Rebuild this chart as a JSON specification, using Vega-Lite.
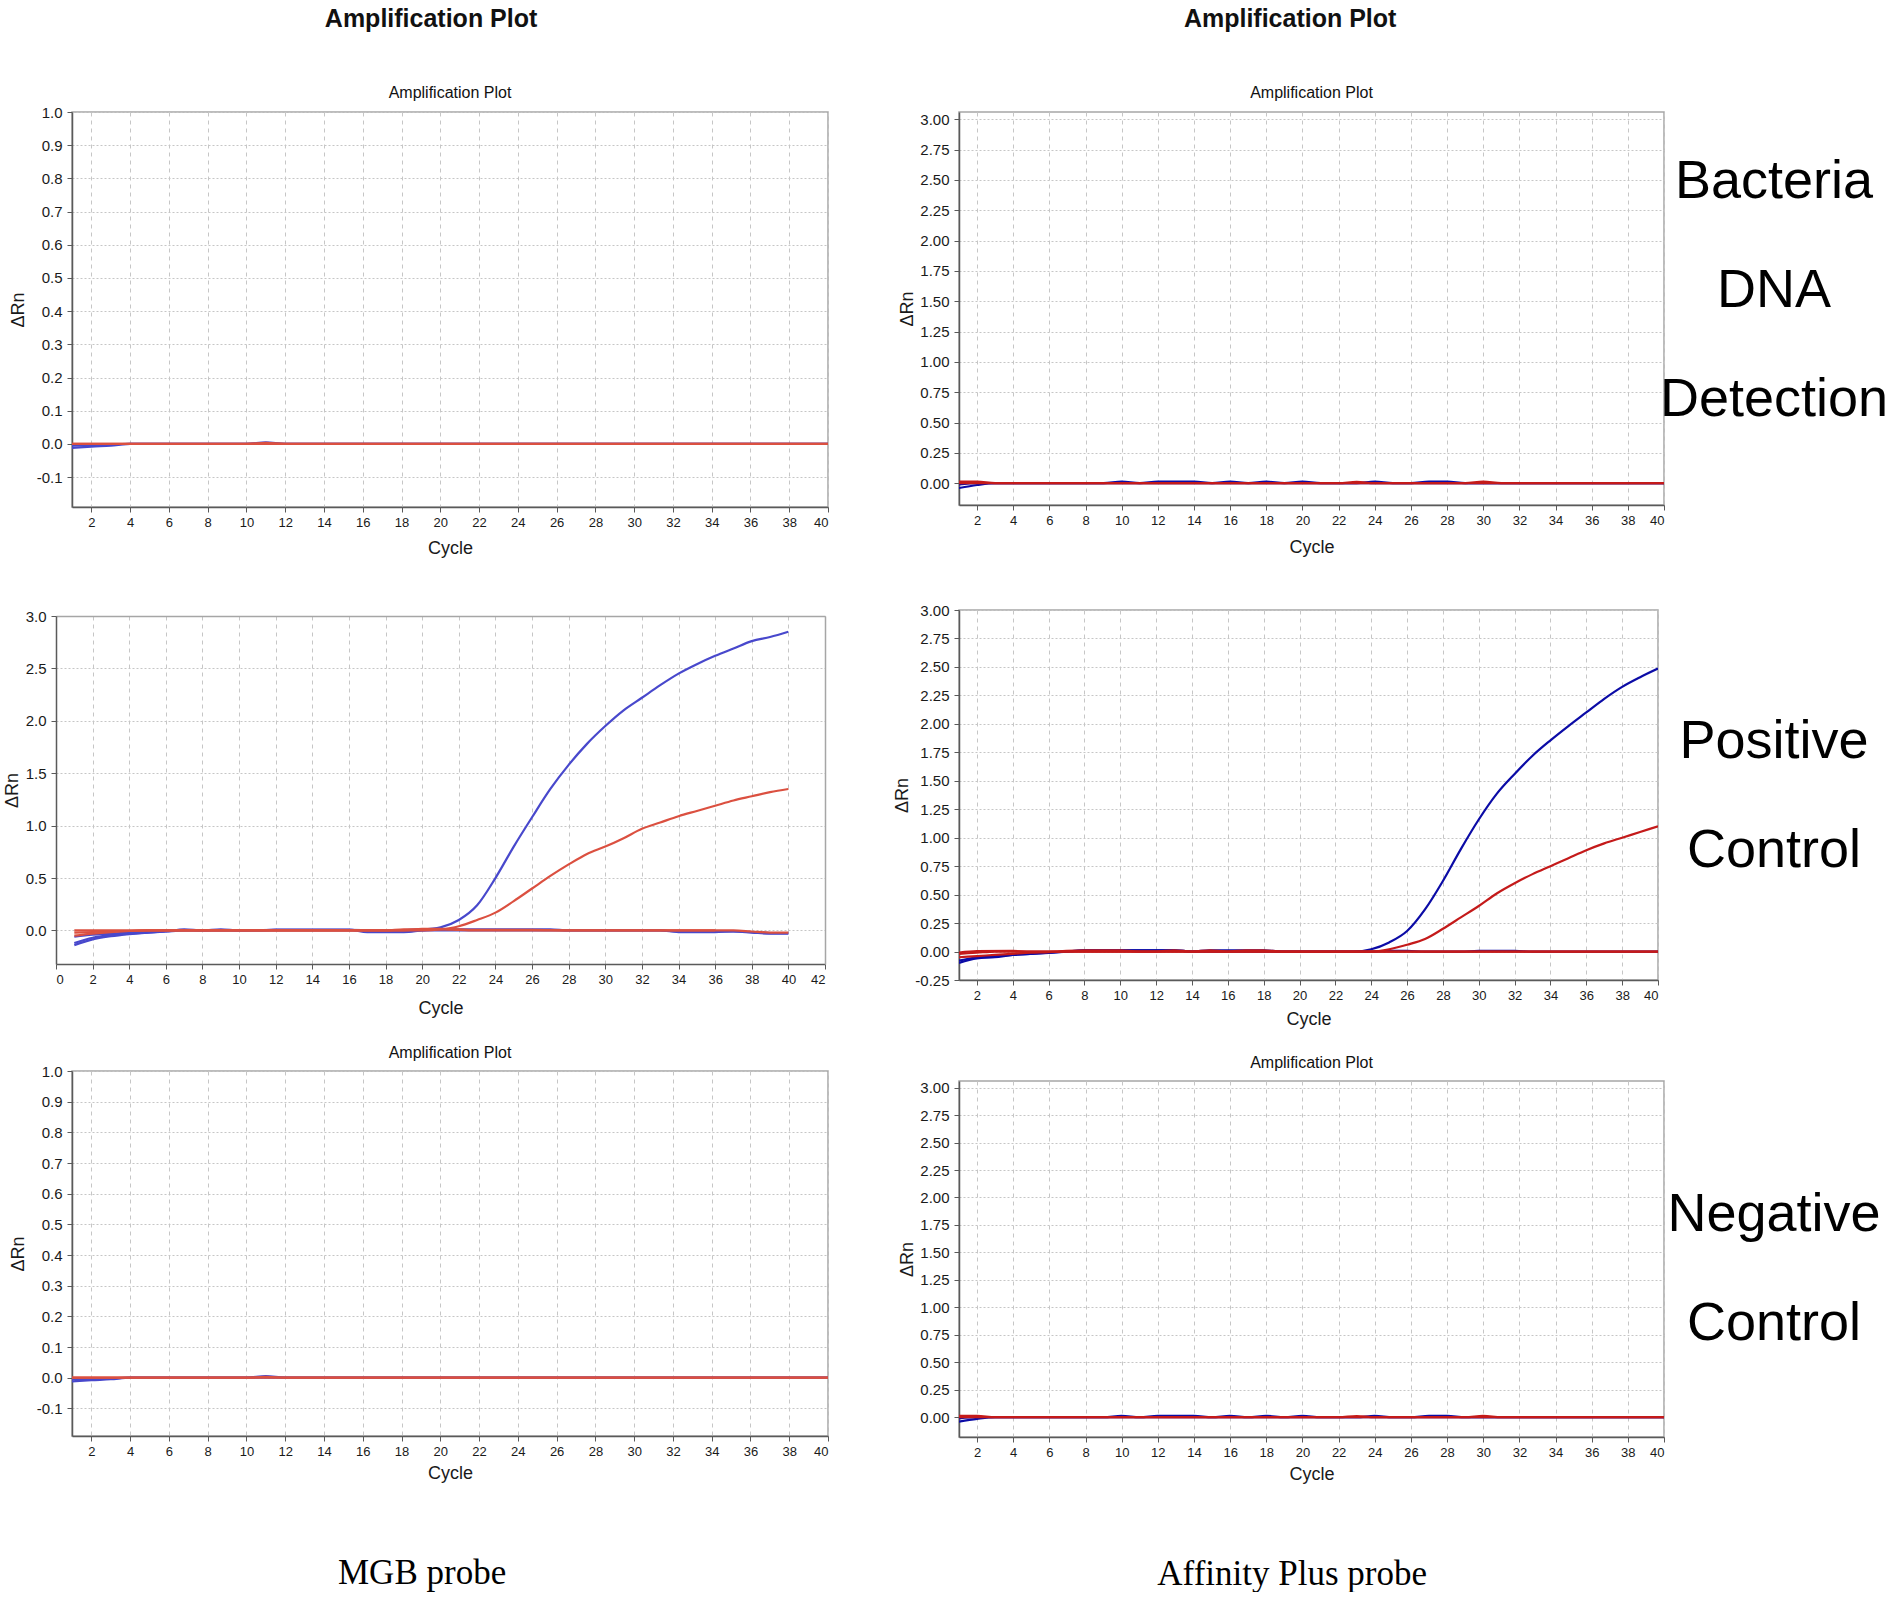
{
  "$schema": "https://vega.github.io/schema/vega-lite/v6.json",
  "background": "white",
  "padding": {"left": 3, "top": 7, "right": 0, "bottom": 0},
  "data": {
    "values": [
      {"p":"TL","s":"b1","d":"MGB-FAM","x":1,"y":-0.012},{"p":"TL","s":"b1","d":"MGB-FAM","x":2,"y":-0.008},{"p":"TL","s":"b1","d":"MGB-FAM","x":3,"y":-0.005},{"p":"TL","s":"b1","d":"MGB-FAM","x":4,"y":0},{"p":"TL","s":"b1","d":"MGB-FAM","x":40,"y":0},
      {"p":"TL","s":"b2","d":"MGB-FAM","x":1,"y":-0.005},{"p":"TL","s":"b2","d":"MGB-FAM","x":3,"y":-0.002},{"p":"TL","s":"b2","d":"MGB-FAM","x":4,"y":0},{"p":"TL","s":"b2","d":"MGB-FAM","x":10,"y":0},{"p":"TL","s":"b2","d":"MGB-FAM","x":11,"y":0.005},{"p":"TL","s":"b2","d":"MGB-FAM","x":12,"y":0},{"p":"TL","s":"b2","d":"MGB-FAM","x":40,"y":0},
      {"p":"TL","s":"r1","d":"MGB-VIC","x":1,"y":0},{"p":"TL","s":"r1","d":"MGB-VIC","x":40,"y":0},
      {"p":"TL","s":"r2","d":"MGB-VIC","x":1,"y":0},{"p":"TL","s":"r2","d":"MGB-VIC","x":10,"y":0},{"p":"TL","s":"r2","d":"MGB-VIC","x":11,"y":0.003},{"p":"TL","s":"r2","d":"MGB-VIC","x":12,"y":0},{"p":"TL","s":"r2","d":"MGB-VIC","x":40,"y":0},

      {"p":"BL","s":"b1","d":"MGB-FAM","x":1,"y":-0.012},{"p":"BL","s":"b1","d":"MGB-FAM","x":2,"y":-0.008},{"p":"BL","s":"b1","d":"MGB-FAM","x":3,"y":-0.005},{"p":"BL","s":"b1","d":"MGB-FAM","x":4,"y":0},{"p":"BL","s":"b1","d":"MGB-FAM","x":40,"y":0},
      {"p":"BL","s":"b2","d":"MGB-FAM","x":1,"y":-0.005},{"p":"BL","s":"b2","d":"MGB-FAM","x":3,"y":-0.002},{"p":"BL","s":"b2","d":"MGB-FAM","x":4,"y":0},{"p":"BL","s":"b2","d":"MGB-FAM","x":10,"y":0},{"p":"BL","s":"b2","d":"MGB-FAM","x":11,"y":0.005},{"p":"BL","s":"b2","d":"MGB-FAM","x":12,"y":0},{"p":"BL","s":"b2","d":"MGB-FAM","x":40,"y":0},
      {"p":"BL","s":"r1","d":"MGB-VIC","x":1,"y":0},{"p":"BL","s":"r1","d":"MGB-VIC","x":40,"y":0},
      {"p":"BL","s":"r2","d":"MGB-VIC","x":1,"y":0},{"p":"BL","s":"r2","d":"MGB-VIC","x":10,"y":0},{"p":"BL","s":"r2","d":"MGB-VIC","x":11,"y":0.003},{"p":"BL","s":"r2","d":"MGB-VIC","x":12,"y":0},{"p":"BL","s":"r2","d":"MGB-VIC","x":40,"y":0},

      {"p":"TR","s":"b1","d":"AP-FAM","x":1,"y":-0.04},{"p":"TR","s":"b1","d":"AP-FAM","x":2,"y":-0.015},{"p":"TR","s":"b1","d":"AP-FAM","x":3,"y":0},{"p":"TR","s":"b1","d":"AP-FAM","x":9,"y":0},{"p":"TR","s":"b1","d":"AP-FAM","x":10,"y":0.012},{"p":"TR","s":"b1","d":"AP-FAM","x":11,"y":0},{"p":"TR","s":"b1","d":"AP-FAM","x":12,"y":0.012},{"p":"TR","s":"b1","d":"AP-FAM","x":13,"y":0.012},{"p":"TR","s":"b1","d":"AP-FAM","x":14,"y":0.012},{"p":"TR","s":"b1","d":"AP-FAM","x":15,"y":0},{"p":"TR","s":"b1","d":"AP-FAM","x":16,"y":0.012},{"p":"TR","s":"b1","d":"AP-FAM","x":17,"y":0},{"p":"TR","s":"b1","d":"AP-FAM","x":18,"y":0.012},{"p":"TR","s":"b1","d":"AP-FAM","x":19,"y":0},{"p":"TR","s":"b1","d":"AP-FAM","x":20,"y":0.012},{"p":"TR","s":"b1","d":"AP-FAM","x":21,"y":0},{"p":"TR","s":"b1","d":"AP-FAM","x":23,"y":0},{"p":"TR","s":"b1","d":"AP-FAM","x":24,"y":0.012},{"p":"TR","s":"b1","d":"AP-FAM","x":25,"y":0},{"p":"TR","s":"b1","d":"AP-FAM","x":26,"y":0},{"p":"TR","s":"b1","d":"AP-FAM","x":27,"y":0.012},{"p":"TR","s":"b1","d":"AP-FAM","x":28,"y":0.012},{"p":"TR","s":"b1","d":"AP-FAM","x":29,"y":0},{"p":"TR","s":"b1","d":"AP-FAM","x":40,"y":0},
      {"p":"TR","s":"b2","d":"AP-FAM","x":1,"y":-0.01},{"p":"TR","s":"b2","d":"AP-FAM","x":2,"y":0},{"p":"TR","s":"b2","d":"AP-FAM","x":40,"y":0},
      {"p":"TR","s":"r1","d":"AP-VIC","x":1,"y":0.012},{"p":"TR","s":"r1","d":"AP-VIC","x":2,"y":0.012},{"p":"TR","s":"r1","d":"AP-VIC","x":3,"y":0},{"p":"TR","s":"r1","d":"AP-VIC","x":22,"y":0},{"p":"TR","s":"r1","d":"AP-VIC","x":23,"y":0.01},{"p":"TR","s":"r1","d":"AP-VIC","x":24,"y":0},{"p":"TR","s":"r1","d":"AP-VIC","x":29,"y":0},{"p":"TR","s":"r1","d":"AP-VIC","x":30,"y":0.012},{"p":"TR","s":"r1","d":"AP-VIC","x":31,"y":0},{"p":"TR","s":"r1","d":"AP-VIC","x":40,"y":0},
      {"p":"TR","s":"r2","d":"AP-VIC","x":1,"y":0},{"p":"TR","s":"r2","d":"AP-VIC","x":40,"y":0},

      {"p":"BR","s":"b1","d":"AP-FAM","x":1,"y":-0.04},{"p":"BR","s":"b1","d":"AP-FAM","x":2,"y":-0.015},{"p":"BR","s":"b1","d":"AP-FAM","x":3,"y":0},{"p":"BR","s":"b1","d":"AP-FAM","x":9,"y":0},{"p":"BR","s":"b1","d":"AP-FAM","x":10,"y":0.012},{"p":"BR","s":"b1","d":"AP-FAM","x":11,"y":0},{"p":"BR","s":"b1","d":"AP-FAM","x":12,"y":0.012},{"p":"BR","s":"b1","d":"AP-FAM","x":13,"y":0.012},{"p":"BR","s":"b1","d":"AP-FAM","x":14,"y":0.012},{"p":"BR","s":"b1","d":"AP-FAM","x":15,"y":0},{"p":"BR","s":"b1","d":"AP-FAM","x":16,"y":0.012},{"p":"BR","s":"b1","d":"AP-FAM","x":17,"y":0},{"p":"BR","s":"b1","d":"AP-FAM","x":18,"y":0.012},{"p":"BR","s":"b1","d":"AP-FAM","x":19,"y":0},{"p":"BR","s":"b1","d":"AP-FAM","x":20,"y":0.012},{"p":"BR","s":"b1","d":"AP-FAM","x":21,"y":0},{"p":"BR","s":"b1","d":"AP-FAM","x":23,"y":0},{"p":"BR","s":"b1","d":"AP-FAM","x":24,"y":0.012},{"p":"BR","s":"b1","d":"AP-FAM","x":25,"y":0},{"p":"BR","s":"b1","d":"AP-FAM","x":26,"y":0},{"p":"BR","s":"b1","d":"AP-FAM","x":27,"y":0.012},{"p":"BR","s":"b1","d":"AP-FAM","x":28,"y":0.012},{"p":"BR","s":"b1","d":"AP-FAM","x":29,"y":0},{"p":"BR","s":"b1","d":"AP-FAM","x":40,"y":0},
      {"p":"BR","s":"b2","d":"AP-FAM","x":1,"y":-0.01},{"p":"BR","s":"b2","d":"AP-FAM","x":2,"y":0},{"p":"BR","s":"b2","d":"AP-FAM","x":40,"y":0},
      {"p":"BR","s":"r1","d":"AP-VIC","x":1,"y":0.012},{"p":"BR","s":"r1","d":"AP-VIC","x":2,"y":0.012},{"p":"BR","s":"r1","d":"AP-VIC","x":3,"y":0},{"p":"BR","s":"r1","d":"AP-VIC","x":22,"y":0},{"p":"BR","s":"r1","d":"AP-VIC","x":23,"y":0.01},{"p":"BR","s":"r1","d":"AP-VIC","x":24,"y":0},{"p":"BR","s":"r1","d":"AP-VIC","x":29,"y":0},{"p":"BR","s":"r1","d":"AP-VIC","x":30,"y":0.012},{"p":"BR","s":"r1","d":"AP-VIC","x":31,"y":0},{"p":"BR","s":"r1","d":"AP-VIC","x":40,"y":0},
      {"p":"BR","s":"r2","d":"AP-VIC","x":1,"y":0},{"p":"BR","s":"r2","d":"AP-VIC","x":40,"y":0},

      {"p":"ML","s":"b1","d":"MGB-FAM","x":1,"y":-0.14},{"p":"ML","s":"b1","d":"MGB-FAM","x":2,"y":-0.085},{"p":"ML","s":"b1","d":"MGB-FAM","x":3,"y":-0.055},{"p":"ML","s":"b1","d":"MGB-FAM","x":4,"y":-0.035},{"p":"ML","s":"b1","d":"MGB-FAM","x":5,"y":-0.02},{"p":"ML","s":"b1","d":"MGB-FAM","x":6,"y":-0.01},{"p":"ML","s":"b1","d":"MGB-FAM","x":7,"y":0},{"p":"ML","s":"b1","d":"MGB-FAM","x":10,"y":0},{"p":"ML","s":"b1","d":"MGB-FAM","x":12,"y":0.005},{"p":"ML","s":"b1","d":"MGB-FAM","x":16,"y":0.005},{"p":"ML","s":"b1","d":"MGB-FAM","x":18,"y":0},{"p":"ML","s":"b1","d":"MGB-FAM","x":20,"y":0.01},{"p":"ML","s":"b1","d":"MGB-FAM","x":21,"y":0.03},{"p":"ML","s":"b1","d":"MGB-FAM","x":22,"y":0.1},{"p":"ML","s":"b1","d":"MGB-FAM","x":23,"y":0.24},{"p":"ML","s":"b1","d":"MGB-FAM","x":24,"y":0.5},{"p":"ML","s":"b1","d":"MGB-FAM","x":25,"y":0.8},{"p":"ML","s":"b1","d":"MGB-FAM","x":26,"y":1.08},{"p":"ML","s":"b1","d":"MGB-FAM","x":27,"y":1.35},{"p":"ML","s":"b1","d":"MGB-FAM","x":28,"y":1.58},{"p":"ML","s":"b1","d":"MGB-FAM","x":29,"y":1.78},{"p":"ML","s":"b1","d":"MGB-FAM","x":30,"y":1.95},{"p":"ML","s":"b1","d":"MGB-FAM","x":31,"y":2.1},{"p":"ML","s":"b1","d":"MGB-FAM","x":32,"y":2.22},{"p":"ML","s":"b1","d":"MGB-FAM","x":33,"y":2.34},{"p":"ML","s":"b1","d":"MGB-FAM","x":34,"y":2.45},{"p":"ML","s":"b1","d":"MGB-FAM","x":35,"y":2.54},{"p":"ML","s":"b1","d":"MGB-FAM","x":36,"y":2.62},{"p":"ML","s":"b1","d":"MGB-FAM","x":37,"y":2.69},{"p":"ML","s":"b1","d":"MGB-FAM","x":38,"y":2.76},{"p":"ML","s":"b1","d":"MGB-FAM","x":39,"y":2.8},{"p":"ML","s":"b1","d":"MGB-FAM","x":40,"y":2.85},
      {"p":"ML","s":"b2","d":"MGB-FAM","x":1,"y":-0.12},{"p":"ML","s":"b2","d":"MGB-FAM","x":2,"y":-0.07},{"p":"ML","s":"b2","d":"MGB-FAM","x":3,"y":-0.045},{"p":"ML","s":"b2","d":"MGB-FAM","x":4,"y":-0.03},{"p":"ML","s":"b2","d":"MGB-FAM","x":5,"y":-0.02},{"p":"ML","s":"b2","d":"MGB-FAM","x":6,"y":-0.01},{"p":"ML","s":"b2","d":"MGB-FAM","x":7,"y":0.01},{"p":"ML","s":"b2","d":"MGB-FAM","x":8,"y":0},{"p":"ML","s":"b2","d":"MGB-FAM","x":9,"y":0.01},{"p":"ML","s":"b2","d":"MGB-FAM","x":10,"y":0},{"p":"ML","s":"b2","d":"MGB-FAM","x":11,"y":0},{"p":"ML","s":"b2","d":"MGB-FAM","x":12,"y":0.008},{"p":"ML","s":"b2","d":"MGB-FAM","x":16,"y":0.008},{"p":"ML","s":"b2","d":"MGB-FAM","x":17,"y":-0.015},{"p":"ML","s":"b2","d":"MGB-FAM","x":19,"y":-0.015},{"p":"ML","s":"b2","d":"MGB-FAM","x":20,"y":0},{"p":"ML","s":"b2","d":"MGB-FAM","x":21,"y":0.01},{"p":"ML","s":"b2","d":"MGB-FAM","x":27,"y":0.01},{"p":"ML","s":"b2","d":"MGB-FAM","x":28,"y":0},{"p":"ML","s":"b2","d":"MGB-FAM","x":33,"y":0},{"p":"ML","s":"b2","d":"MGB-FAM","x":34,"y":-0.015},{"p":"ML","s":"b2","d":"MGB-FAM","x":36,"y":-0.015},{"p":"ML","s":"b2","d":"MGB-FAM","x":37,"y":-0.01},{"p":"ML","s":"b2","d":"MGB-FAM","x":38,"y":-0.02},{"p":"ML","s":"b2","d":"MGB-FAM","x":39,"y":-0.03},{"p":"ML","s":"b2","d":"MGB-FAM","x":40,"y":-0.03},
      {"p":"ML","s":"b3","d":"MGB-FAM","x":1,"y":-0.06},{"p":"ML","s":"b3","d":"MGB-FAM","x":2,"y":-0.04},{"p":"ML","s":"b3","d":"MGB-FAM","x":3,"y":-0.03},{"p":"ML","s":"b3","d":"MGB-FAM","x":4,"y":-0.02},{"p":"ML","s":"b3","d":"MGB-FAM","x":5,"y":-0.01},{"p":"ML","s":"b3","d":"MGB-FAM","x":6,"y":0},{"p":"ML","s":"b3","d":"MGB-FAM","x":17,"y":0},{"p":"ML","s":"b3","d":"MGB-FAM","x":18,"y":-0.01},{"p":"ML","s":"b3","d":"MGB-FAM","x":19,"y":-0.01},{"p":"ML","s":"b3","d":"MGB-FAM","x":20,"y":0},{"p":"ML","s":"b3","d":"MGB-FAM","x":33,"y":0},{"p":"ML","s":"b3","d":"MGB-FAM","x":34,"y":-0.01},{"p":"ML","s":"b3","d":"MGB-FAM","x":37,"y":-0.01},{"p":"ML","s":"b3","d":"MGB-FAM","x":38,"y":-0.015},{"p":"ML","s":"b3","d":"MGB-FAM","x":39,"y":-0.025},{"p":"ML","s":"b3","d":"MGB-FAM","x":40,"y":-0.025},
      {"p":"ML","s":"r1","d":"MGB-VIC","x":1,"y":-0.02},{"p":"ML","s":"r1","d":"MGB-VIC","x":2,"y":-0.015},{"p":"ML","s":"r1","d":"MGB-VIC","x":3,"y":-0.01},{"p":"ML","s":"r1","d":"MGB-VIC","x":4,"y":-0.005},{"p":"ML","s":"r1","d":"MGB-VIC","x":5,"y":0},{"p":"ML","s":"r1","d":"MGB-VIC","x":20,"y":0},{"p":"ML","s":"r1","d":"MGB-VIC","x":21,"y":0.01},{"p":"ML","s":"r1","d":"MGB-VIC","x":22,"y":0.04},{"p":"ML","s":"r1","d":"MGB-VIC","x":23,"y":0.1},{"p":"ML","s":"r1","d":"MGB-VIC","x":24,"y":0.17},{"p":"ML","s":"r1","d":"MGB-VIC","x":25,"y":0.28},{"p":"ML","s":"r1","d":"MGB-VIC","x":26,"y":0.4},{"p":"ML","s":"r1","d":"MGB-VIC","x":27,"y":0.52},{"p":"ML","s":"r1","d":"MGB-VIC","x":28,"y":0.63},{"p":"ML","s":"r1","d":"MGB-VIC","x":29,"y":0.73},{"p":"ML","s":"r1","d":"MGB-VIC","x":30,"y":0.8},{"p":"ML","s":"r1","d":"MGB-VIC","x":31,"y":0.88},{"p":"ML","s":"r1","d":"MGB-VIC","x":32,"y":0.97},{"p":"ML","s":"r1","d":"MGB-VIC","x":33,"y":1.03},{"p":"ML","s":"r1","d":"MGB-VIC","x":34,"y":1.09},{"p":"ML","s":"r1","d":"MGB-VIC","x":35,"y":1.14},{"p":"ML","s":"r1","d":"MGB-VIC","x":36,"y":1.19},{"p":"ML","s":"r1","d":"MGB-VIC","x":37,"y":1.24},{"p":"ML","s":"r1","d":"MGB-VIC","x":38,"y":1.28},{"p":"ML","s":"r1","d":"MGB-VIC","x":39,"y":1.32},{"p":"ML","s":"r1","d":"MGB-VIC","x":40,"y":1.35},
      {"p":"ML","s":"r2","d":"MGB-VIC","x":1,"y":0},{"p":"ML","s":"r2","d":"MGB-VIC","x":18,"y":0},{"p":"ML","s":"r2","d":"MGB-VIC","x":19,"y":0.01},{"p":"ML","s":"r2","d":"MGB-VIC","x":21,"y":0.01},{"p":"ML","s":"r2","d":"MGB-VIC","x":22,"y":0.005},{"p":"ML","s":"r2","d":"MGB-VIC","x":23,"y":0},{"p":"ML","s":"r2","d":"MGB-VIC","x":37,"y":0},{"p":"ML","s":"r2","d":"MGB-VIC","x":38,"y":-0.01},{"p":"ML","s":"r2","d":"MGB-VIC","x":39,"y":-0.02},{"p":"ML","s":"r2","d":"MGB-VIC","x":40,"y":-0.02},
      {"p":"ML","s":"r3","d":"MGB-VIC","x":1,"y":-0.05},{"p":"ML","s":"r3","d":"MGB-VIC","x":2,"y":-0.03},{"p":"ML","s":"r3","d":"MGB-VIC","x":3,"y":-0.015},{"p":"ML","s":"r3","d":"MGB-VIC","x":4,"y":-0.005},{"p":"ML","s":"r3","d":"MGB-VIC","x":5,"y":0},{"p":"ML","s":"r3","d":"MGB-VIC","x":19,"y":0},{"p":"ML","s":"r3","d":"MGB-VIC","x":20,"y":0.015},{"p":"ML","s":"r3","d":"MGB-VIC","x":21,"y":0.015},{"p":"ML","s":"r3","d":"MGB-VIC","x":22,"y":0.01},{"p":"ML","s":"r3","d":"MGB-VIC","x":23,"y":0.005},{"p":"ML","s":"r3","d":"MGB-VIC","x":26,"y":0.005},{"p":"ML","s":"r3","d":"MGB-VIC","x":28,"y":0},{"p":"ML","s":"r3","d":"MGB-VIC","x":36,"y":0},

      {"p":"MR","s":"b1","d":"AP-FAM","x":1,"y":-0.1},{"p":"MR","s":"b1","d":"AP-FAM","x":2,"y":-0.06},{"p":"MR","s":"b1","d":"AP-FAM","x":3,"y":-0.05},{"p":"MR","s":"b1","d":"AP-FAM","x":4,"y":-0.03},{"p":"MR","s":"b1","d":"AP-FAM","x":5,"y":-0.02},{"p":"MR","s":"b1","d":"AP-FAM","x":6,"y":-0.012},{"p":"MR","s":"b1","d":"AP-FAM","x":7,"y":0},{"p":"MR","s":"b1","d":"AP-FAM","x":8,"y":0.01},{"p":"MR","s":"b1","d":"AP-FAM","x":13,"y":0.01},{"p":"MR","s":"b1","d":"AP-FAM","x":14,"y":0},{"p":"MR","s":"b1","d":"AP-FAM","x":15,"y":0.01},{"p":"MR","s":"b1","d":"AP-FAM","x":18,"y":0.01},{"p":"MR","s":"b1","d":"AP-FAM","x":19,"y":0},{"p":"MR","s":"b1","d":"AP-FAM","x":23,"y":0},{"p":"MR","s":"b1","d":"AP-FAM","x":24,"y":0.02},{"p":"MR","s":"b1","d":"AP-FAM","x":25,"y":0.08},{"p":"MR","s":"b1","d":"AP-FAM","x":26,"y":0.18},{"p":"MR","s":"b1","d":"AP-FAM","x":27,"y":0.37},{"p":"MR","s":"b1","d":"AP-FAM","x":28,"y":0.62},{"p":"MR","s":"b1","d":"AP-FAM","x":29,"y":0.9},{"p":"MR","s":"b1","d":"AP-FAM","x":30,"y":1.16},{"p":"MR","s":"b1","d":"AP-FAM","x":31,"y":1.385},{"p":"MR","s":"b1","d":"AP-FAM","x":32,"y":1.56},{"p":"MR","s":"b1","d":"AP-FAM","x":33,"y":1.72},{"p":"MR","s":"b1","d":"AP-FAM","x":34,"y":1.855},{"p":"MR","s":"b1","d":"AP-FAM","x":35,"y":1.98},{"p":"MR","s":"b1","d":"AP-FAM","x":36,"y":2.1},{"p":"MR","s":"b1","d":"AP-FAM","x":37,"y":2.22},{"p":"MR","s":"b1","d":"AP-FAM","x":38,"y":2.325},{"p":"MR","s":"b1","d":"AP-FAM","x":39,"y":2.41},{"p":"MR","s":"b1","d":"AP-FAM","x":40,"y":2.486},
      {"p":"MR","s":"b2","d":"AP-FAM","x":1,"y":-0.08},{"p":"MR","s":"b2","d":"AP-FAM","x":2,"y":-0.05},{"p":"MR","s":"b2","d":"AP-FAM","x":3,"y":-0.04},{"p":"MR","s":"b2","d":"AP-FAM","x":4,"y":-0.03},{"p":"MR","s":"b2","d":"AP-FAM","x":5,"y":-0.02},{"p":"MR","s":"b2","d":"AP-FAM","x":6,"y":-0.01},{"p":"MR","s":"b2","d":"AP-FAM","x":7,"y":0},{"p":"MR","s":"b2","d":"AP-FAM","x":8,"y":0.01},{"p":"MR","s":"b2","d":"AP-FAM","x":13,"y":0.01},{"p":"MR","s":"b2","d":"AP-FAM","x":14,"y":0},{"p":"MR","s":"b2","d":"AP-FAM","x":24,"y":0},{"p":"MR","s":"b2","d":"AP-FAM","x":25,"y":0.005},{"p":"MR","s":"b2","d":"AP-FAM","x":26,"y":0.005},{"p":"MR","s":"b2","d":"AP-FAM","x":27,"y":0},{"p":"MR","s":"b2","d":"AP-FAM","x":29,"y":0},{"p":"MR","s":"b2","d":"AP-FAM","x":30,"y":0.005},{"p":"MR","s":"b2","d":"AP-FAM","x":32,"y":0.005},{"p":"MR","s":"b2","d":"AP-FAM","x":33,"y":0},{"p":"MR","s":"b2","d":"AP-FAM","x":40,"y":0},
      {"p":"MR","s":"r1","d":"AP-VIC","x":1,"y":-0.05},{"p":"MR","s":"r1","d":"AP-VIC","x":2,"y":-0.04},{"p":"MR","s":"r1","d":"AP-VIC","x":3,"y":-0.03},{"p":"MR","s":"r1","d":"AP-VIC","x":4,"y":-0.02},{"p":"MR","s":"r1","d":"AP-VIC","x":5,"y":-0.01},{"p":"MR","s":"r1","d":"AP-VIC","x":6,"y":-0.005},{"p":"MR","s":"r1","d":"AP-VIC","x":7,"y":0.005},{"p":"MR","s":"r1","d":"AP-VIC","x":8,"y":0.01},{"p":"MR","s":"r1","d":"AP-VIC","x":10,"y":0.01},{"p":"MR","s":"r1","d":"AP-VIC","x":11,"y":0},{"p":"MR","s":"r1","d":"AP-VIC","x":12,"y":0},{"p":"MR","s":"r1","d":"AP-VIC","x":13,"y":0.01},{"p":"MR","s":"r1","d":"AP-VIC","x":14,"y":0},{"p":"MR","s":"r1","d":"AP-VIC","x":15,"y":0.01},{"p":"MR","s":"r1","d":"AP-VIC","x":16,"y":0},{"p":"MR","s":"r1","d":"AP-VIC","x":17,"y":0.01},{"p":"MR","s":"r1","d":"AP-VIC","x":18,"y":0.01},{"p":"MR","s":"r1","d":"AP-VIC","x":19,"y":0},{"p":"MR","s":"r1","d":"AP-VIC","x":24,"y":0},{"p":"MR","s":"r1","d":"AP-VIC","x":25,"y":0.02},{"p":"MR","s":"r1","d":"AP-VIC","x":26,"y":0.06},{"p":"MR","s":"r1","d":"AP-VIC","x":27,"y":0.11},{"p":"MR","s":"r1","d":"AP-VIC","x":28,"y":0.2},{"p":"MR","s":"r1","d":"AP-VIC","x":29,"y":0.3},{"p":"MR","s":"r1","d":"AP-VIC","x":30,"y":0.4},{"p":"MR","s":"r1","d":"AP-VIC","x":31,"y":0.51},{"p":"MR","s":"r1","d":"AP-VIC","x":32,"y":0.6},{"p":"MR","s":"r1","d":"AP-VIC","x":33,"y":0.68},{"p":"MR","s":"r1","d":"AP-VIC","x":34,"y":0.75},{"p":"MR","s":"r1","d":"AP-VIC","x":35,"y":0.82},{"p":"MR","s":"r1","d":"AP-VIC","x":36,"y":0.89},{"p":"MR","s":"r1","d":"AP-VIC","x":37,"y":0.95},{"p":"MR","s":"r1","d":"AP-VIC","x":38,"y":1.0},{"p":"MR","s":"r1","d":"AP-VIC","x":39,"y":1.05},{"p":"MR","s":"r1","d":"AP-VIC","x":40,"y":1.1},
      {"p":"MR","s":"r2","d":"AP-VIC","x":1,"y":-0.02},{"p":"MR","s":"r2","d":"AP-VIC","x":2,"y":-0.01},{"p":"MR","s":"r2","d":"AP-VIC","x":3,"y":0},{"p":"MR","s":"r2","d":"AP-VIC","x":40,"y":0},
      {"p":"MR","s":"r3","d":"AP-VIC","x":1,"y":-0.01},{"p":"MR","s":"r3","d":"AP-VIC","x":2,"y":0.003},{"p":"MR","s":"r3","d":"AP-VIC","x":4,"y":0.005},{"p":"MR","s":"r3","d":"AP-VIC","x":5,"y":0},{"p":"MR","s":"r3","d":"AP-VIC","x":40,"y":0},

      {"p":"L1","line":1,"t":"Bacteria"},{"p":"L1","line":2,"t":"DNA"},{"p":"L1","line":3,"t":"Detection"},
      {"p":"L2","line":1,"t":"Positive"},{"p":"L2","line":2,"t":"Control"},
      {"p":"L3","line":1,"t":"Negative"},{"p":"L3","line":2,"t":"Control"}
    ]
  },
  "hconcat": [
    {
      "title": {"text": "Amplification Plot", "fontSize": 25, "fontWeight": "bold", "offset": 27, "baseline": "bottom", "dx": 9},
      "columns": 1,
      "align": "none",
      "spacing": 51,
      "concat": [
        {
          "width": 756,
          "height": 395,
          "title": {"text": "Amplification Plot", "offset": -12, "baseline": "bottom"},
          "transform": [{"filter": "datum.p === 'TL'"}],
          "mark": {"type": "line", "interpolate": "monotone", "strokeWidth": 2.2, "clip": true},
          "encoding": {
            "x": {"field": "x", "type": "quantitative", "scale": {"domain": [1, 40], "nice": false, "zero": false},
                  "axis": {"title": "Cycle", "titlePadding": 10, "values": [2,4,6,8,10,12,14,16,18,20,22,24,26,28,30,32,34,36,38,40]}},
            "y": {"field": "y", "type": "quantitative", "scale": {"domain": [-0.19, 1.0], "nice": false, "zero": false},
                  "axis": {"title": "ΔRn", "titlePadding": 9, "values": [-0.1,0,0.1,0.2,0.3,0.4,0.5,0.6,0.7,0.8,0.9,1.0], "labelExpr": "replace(format(datum.value, '.1f'), '\u2212', '-')"}},
            "color": {"field": "d", "type": "nominal", "legend": null,
                      "scale": {"domain": ["MGB-FAM", "MGB-VIC", "AP-FAM", "AP-VIC"], "range": ["#4848cc", "#db5040", "#0b0ba6", "#c41a1a"]}},
            "detail": {"field": "s", "type": "nominal"}
          }
        },
        {
          "title": {"text": "MGB probe", "orient": "bottom", "font": "Liberation Serif, Times New Roman, serif", "fontSize": 35, "offset": 73, "baseline": "top", "color": "#000000"},
          "columns": 1,
          "align": "none",
          "spacing": 27,
          "concat": [
            {
              "width": 753,
              "height": 348,
              "view": {"stroke": null},
              "transform": [{"filter": "datum.p === 'ML'"}],
              "encoding": {
                "x": {"field": "x", "type": "quantitative", "scale": {"domain": [0, 42], "nice": false, "zero": false, "range": [-16, 753]}},
                "y": {"field": "y", "type": "quantitative", "scale": {"domain": [-0.32, 3.0], "nice": false, "zero": false}},
                "color": {"field": "d", "type": "nominal", "legend": null,
                          "scale": {"domain": ["MGB-FAM", "MGB-VIC", "AP-FAM", "AP-VIC"], "range": ["#4848cc", "#db5040", "#0b0ba6", "#c41a1a"]}},
                "detail": {"field": "s", "type": "nominal"}
              },
              "layer": [
                {
                  "mark": {"type": "line", "interpolate": "monotone", "strokeWidth": 2.2, "clip": true},
                  "encoding": {
                    "x": {"field": "x", "type": "quantitative",
                          "axis": {"title": "Cycle", "titlePadding": 13, "values": [0,2,4,6,8,10,12,14,16,18,20,22,24,26,28,30,32,34,36,38,40,42]}},
                    "y": {"field": "y", "type": "quantitative",
                          "axis": {"title": "ΔRn", "titlePadding": 4, "offset": 16, "values": [0,0.5,1,1.5,2,2.5,3], "labelExpr": "format(datum.value, '.1f')"}}
                  }
                },
                {
                  "mark": {"type": "line", "opacity": 0},
                  "encoding": {
                    "x": {"field": "x", "type": "quantitative",
                          "axis": {"orient": "top", "title": null, "labels": false, "ticks": false, "grid": false, "minExtent": 0, "maxExtent": 0, "domainColor": "#a6a6a6"}},
                    "y": {"field": "y", "type": "quantitative",
                          "axis": {"orient": "right", "title": null, "labels": false, "ticks": false, "grid": false, "minExtent": 0, "maxExtent": 0, "domainColor": "#a6a6a6"}}
                  }
                }
              ],
              "resolve": {"axis": {"x": "independent", "y": "independent"}}
            },
            {
              "width": 756,
              "height": 365,
              "title": {"text": "Amplification Plot", "offset": -13, "baseline": "bottom"},
              "transform": [{"filter": "datum.p === 'BL'"}],
              "mark": {"type": "line", "interpolate": "monotone", "strokeWidth": 2.2, "clip": true},
              "encoding": {
                "x": {"field": "x", "type": "quantitative", "scale": {"domain": [1, 40], "nice": false, "zero": false},
                      "axis": {"title": "Cycle", "titlePadding": 6, "values": [2,4,6,8,10,12,14,16,18,20,22,24,26,28,30,32,34,36,38,40]}},
                "y": {"field": "y", "type": "quantitative", "scale": {"domain": [-0.19, 1.0], "nice": false, "zero": false},
                      "axis": {"title": "ΔRn", "titlePadding": 9, "values": [-0.1,0,0.1,0.2,0.3,0.4,0.5,0.6,0.7,0.8,0.9,1.0], "labelExpr": "replace(format(datum.value, '.1f'), '\u2212', '-')"}},
                "color": {"field": "d", "type": "nominal", "legend": null,
                          "scale": {"domain": ["MGB-FAM", "MGB-VIC", "AP-FAM", "AP-VIC"], "range": ["#4848cc", "#db5040", "#0b0ba6", "#c41a1a"]}},
                "detail": {"field": "s", "type": "nominal"}
              }
            }
          ]
        }
      ]
    },
    {
      "spacing": -7,
      "hconcat": [
        {
          "title": {"text": "Amplification Plot", "fontSize": 25, "fontWeight": "bold", "offset": 27, "baseline": "bottom", "dx": 11},
          "columns": 1,
          "align": "none",
          "spacing": 45,
          "concat": [
            {
              "width": 705,
              "height": 393,
              "title": {"text": "Amplification Plot", "offset": -5, "baseline": "bottom"},
              "transform": [{"filter": "datum.p === 'TR'"}],
              "mark": {"type": "line", "interpolate": "monotone", "strokeWidth": 2.2, "clip": true},
              "encoding": {
                "x": {"field": "x", "type": "quantitative", "scale": {"domain": [1, 40], "nice": false, "zero": false},
                      "axis": {"title": "Cycle", "titlePadding": 11, "values": [2,4,6,8,10,12,14,16,18,20,22,24,26,28,30,32,34,36,38,40]}},
                "y": {"field": "y", "type": "quantitative", "scale": {"domain": [-0.18, 3.06], "nice": false, "zero": false},
                      "axis": {"title": "ΔRn", "titlePadding": 3, "values": [0,0.25,0.5,0.75,1,1.25,1.5,1.75,2,2.25,2.5,2.75,3], "labelExpr": "format(datum.value, '.2f')"}},
                "color": {"field": "d", "type": "nominal", "legend": null,
                          "scale": {"domain": ["MGB-FAM", "MGB-VIC", "AP-FAM", "AP-VIC"], "range": ["#4848cc", "#db5040", "#0b0ba6", "#c41a1a"]}},
                "detail": {"field": "s", "type": "nominal"}
              }
            },
            {
              "title": {"text": "Affinity Plus probe", "orient": "bottom", "font": "Liberation Serif, Times New Roman, serif", "fontSize": 35, "offset": 73, "baseline": "top", "dx": 13, "color": "#000000"},
              "columns": 1,
              "align": "none",
              "spacing": 24,
              "concat": [
                {
                  "width": 699,
                  "height": 370,
                  "transform": [{"filter": "datum.p === 'MR'"}],
                  "mark": {"type": "line", "interpolate": "monotone", "strokeWidth": 2.2, "clip": true},
                  "encoding": {
                    "x": {"field": "x", "type": "quantitative", "scale": {"domain": [1, 40], "nice": false, "zero": false},
                          "axis": {"title": "Cycle", "titlePadding": 8, "values": [2,4,6,8,10,12,14,16,18,20,22,24,26,28,30,32,34,36,38,40]}},
                    "y": {"field": "y", "type": "quantitative", "scale": {"domain": [-0.25, 3.0], "nice": false, "zero": false},
                          "axis": {"title": "ΔRn", "titlePadding": 3, "values": [-0.25,0,0.25,0.5,0.75,1,1.25,1.5,1.75,2,2.25,2.5,2.75,3], "labelExpr": "replace(format(datum.value, '.2f'), '\u2212', '-')"}},
                    "color": {"field": "d", "type": "nominal", "legend": null,
                              "scale": {"domain": ["MGB-FAM", "MGB-VIC", "AP-FAM", "AP-VIC"], "range": ["#4848cc", "#db5040", "#0b0ba6", "#c41a1a"]}},
                    "detail": {"field": "s", "type": "nominal"}
                  }
                },
                {
                  "width": 705,
                  "height": 356,
                  "title": {"text": "Amplification Plot", "offset": -6, "baseline": "bottom"},
                  "transform": [{"filter": "datum.p === 'BR'"}],
                  "mark": {"type": "line", "interpolate": "monotone", "strokeWidth": 2.2, "clip": true},
                  "encoding": {
                    "x": {"field": "x", "type": "quantitative", "scale": {"domain": [1, 40], "nice": false, "zero": false},
                          "axis": {"title": "Cycle", "titlePadding": 6, "values": [2,4,6,8,10,12,14,16,18,20,22,24,26,28,30,32,34,36,38,40]}},
                    "y": {"field": "y", "type": "quantitative", "scale": {"domain": [-0.18, 3.06], "nice": false, "zero": false},
                          "axis": {"title": "ΔRn", "titlePadding": 3, "values": [0,0.25,0.5,0.75,1,1.25,1.5,1.75,2,2.25,2.5,2.75,3], "labelExpr": "format(datum.value, '.2f')"}},
                    "color": {"field": "d", "type": "nominal", "legend": null,
                              "scale": {"domain": ["MGB-FAM", "MGB-VIC", "AP-FAM", "AP-VIC"], "range": ["#4848cc", "#db5040", "#0b0ba6", "#c41a1a"]}},
                    "detail": {"field": "s", "type": "nominal"}
                  }
                }
              ]
            }
          ]
        },
        {
          "columns": 1,
          "align": "none",
          "spacing": 217,
          "concat": [
            {
              "width": 214,
              "height": 358,
              "view": {"stroke": null},
              "transform": [{"filter": "datum.p === 'L1'"}],
              "mark": {"type": "text", "font": "Liberation Sans, Arial, sans-serif", "fontSize": 54, "color": "#000000", "align": "center", "baseline": "middle"},
              "encoding": {
                "y": {"field": "line", "type": "ordinal", "scale": {"type": "point", "padding": 0.642}, "axis": null},
                "text": {"field": "t", "type": "nominal"}
              }
            },
            {
              "columns": 1,
              "align": "none",
              "spacing": 255,
              "concat": [
                {
                  "width": 214,
                  "height": 218,
                  "view": {"stroke": null},
                  "transform": [{"filter": "datum.p === 'L2'"}],
                  "mark": {"type": "text", "font": "Liberation Sans, Arial, sans-serif", "fontSize": 54, "color": "#000000", "align": "center", "baseline": "middle"},
                  "encoding": {
                    "y": {"field": "line", "type": "ordinal", "scale": {"type": "point", "padding": 0.5}, "axis": null},
                    "text": {"field": "t", "type": "nominal"}
                  }
                },
                {
                  "width": 214,
                  "height": 218,
                  "view": {"stroke": null},
                  "transform": [{"filter": "datum.p === 'L3'"}],
                  "mark": {"type": "text", "font": "Liberation Sans, Arial, sans-serif", "fontSize": 54, "color": "#000000", "align": "center", "baseline": "middle"},
                  "encoding": {
                    "y": {"field": "line", "type": "ordinal", "scale": {"type": "point", "padding": 0.5}, "axis": null},
                    "text": {"field": "t", "type": "nominal"}
                  }
                }
              ]
            }
          ]
        }
      ]
    }
  ],
  "spacing": 52,
  "config": {
    "font": "Liberation Sans, Arial, sans-serif",
    "view": {"stroke": "#a6a6a6", "strokeWidth": 1.5},
    "axis": {
      "labelColor": "#1a1a1a",
      "labelFontSize": 15,
      "labelPadding": 4,
      "titleColor": "#1a1a1a",
      "titleFontSize": 18,
      "titleFontWeight": "normal",
      "domainColor": "#5a5a5a",
      "domainWidth": 1.5,
      "tickColor": "#5a5a5a",
      "tickSize": 5,
      "gridColor": "#c6c6c6",
      "gridWidth": 1
    },
    "axisX": {"gridDash": [4, 4], "labelFontSize": 13, "titleFontSize": 18},
    "axisY": {"gridDash": [2, 2], "labelPadding": 5},
    "title": {"fontSize": 16, "fontWeight": "normal", "color": "#111111", "anchor": "middle"}
  }
}
